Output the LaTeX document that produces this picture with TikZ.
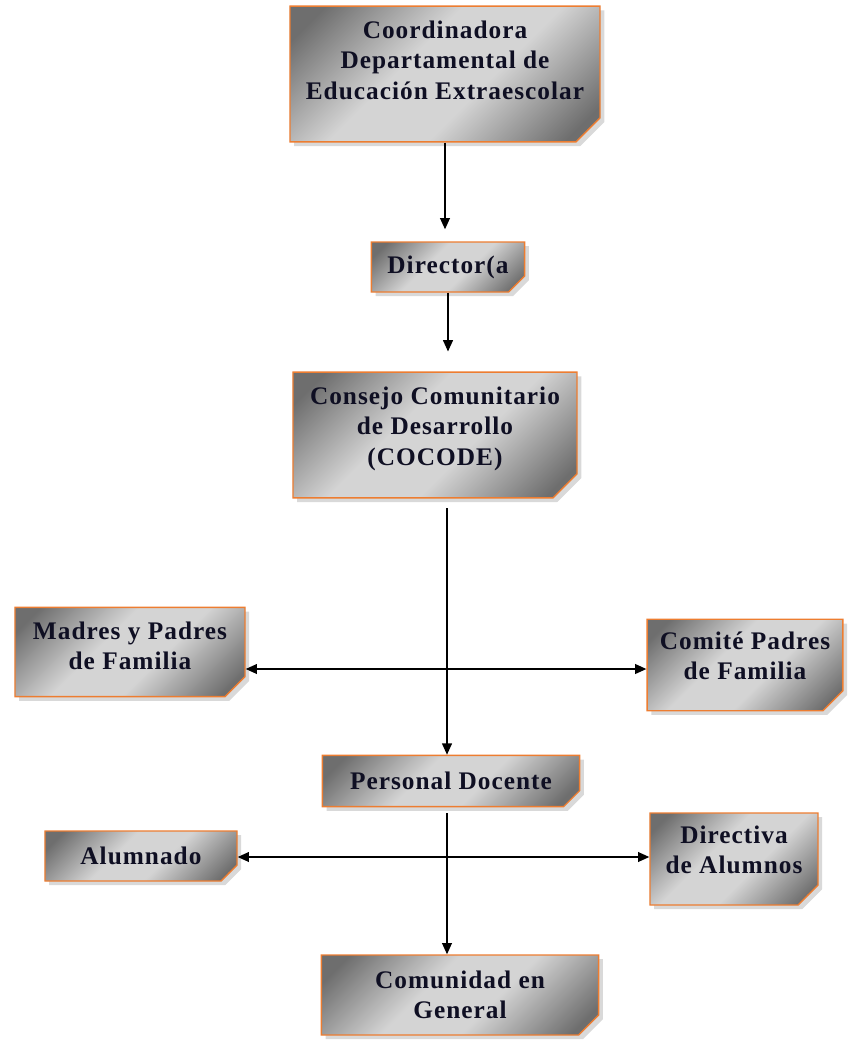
\documentclass[tikz,border=0pt]{standalone}
\usepackage{fontspec}
\setmainfont{Liberation Serif}[LetterSpace=4]
\usetikzlibrary{shapes.misc,shadows,arrows.meta}
\definecolor{boxorange}{RGB}{237,125,49}
\definecolor{boxtext}{RGB}{15,15,35}
\pgfdeclareverticalshading{boxshade}{100bp}{color(0bp)=(black!57); color(20bp)=(black!57);
  color(42bp)=(black!17); color(58bp)=(black!17); color(80bp)=(black!57); color(100bp)=(black!57)}
\tikzset{
  orgbox/.style = {chamfered rectangle, chamfered rectangle corners = south east,
    chamfered rectangle xsep = #1, chamfered rectangle ysep = #1,
    draw = boxorange, line width = 1pt, shading = boxshade, shading angle = 45,
    drop shadow = {opacity = 0.3, shadow xshift = 3pt, shadow yshift = -3pt},
    text = boxtext, font = \bfseries\fontsize{18}{21.5}\selectfont, align = center, inner sep = 2pt,
    path picture = {\draw [boxorange, line width = 0.8pt, fill = black!15]
      ([xshift = -#1]path picture bounding box.south east)
      -- ([yshift = #1]path picture bounding box.south east)
      -- ([xshift = -#1, yshift = #1]path picture bounding box.south east) -- cycle;}},
  orgbox/.default = 0.3cm,
  link/.style = {draw, line width = 1pt, -{Triangle[length = 8pt, width = 7pt]}}
}
\begin{document}
\begin{tikzpicture}[x = 0.025cm, y = -0.025cm]
        \useasboundingbox (0,0) rectangle (855,1042);
        
        \node [orgbox, minimum width = 7.75cm, minimum height = 3.2cm, text depth = 0.7cm] (coord) at (445,74)
            {Coordinadora\\Departamental de\\Educación Extraescolar};
        \node [orgbox = 0.2cm, minimum width = 3.83cm, minimum height = 1.25cm] (dir) at (448,267) {Director(a};
        \node [orgbox, minimum width = 7.1cm, minimum height = 3cm, text depth = 0.45cm] (cocode) at (435,435)
            {Consejo Comunitario\\de Desarrollo\\(COCODE)};
        
        \node [orgbox = 0.25cm, minimum width = 5.75cm, minimum height = 2.23cm, text depth = 0.3cm] (madres) at (130,652)
            {Madres y Padres\\de Familia};
        \node [orgbox = 0.25cm, minimum width = 4.65cm, minimum height = 2.25cm, text depth = 0.45cm] (comite) at (745,665)
            {Comité Padres\\de Familia};
        
        \node [orgbox = 0.2cm, minimum width = 6.43cm, minimum height = 1.28cm] (docente) at (451,781) {Personal Docente};
        \node [orgbox = 0.2cm, minimum width = 4.8cm, minimum height = 1.25cm] (alumnado) at (141,856) {Alumnado};
        \node [orgbox = 0.25cm, minimum width = 4.2cm, minimum height = 2.3cm, text depth = 0.45cm] (directiva) at (734,859)
            {Directiva\\de Alumnos};
        \node [orgbox = 0.25cm, minimum width = 6.93cm, minimum height = 2cm] (comunidad) at (460,995)
            {Comunidad en\\General};
        
        \coordinate (top1) at (447,508);
        \coordinate (mid1) at (447,669);
        \coordinate (top2) at (447,813);
        \coordinate (mid2) at (447,857);
        
        \draw [link] (coord.south) -- ([yshift = 0.3cm]coord.south |- dir.north);
        \draw [link] (dir.south) -- ([yshift = 0.5cm]dir.south |- cocode.north);
        \draw [link] (top1) -- (top1 |- docente.north);
        \draw [link] (mid1) -- (mid1 -| madres.east);
        \draw [link] (mid1) -- (mid1 -| comite.west);
        \draw [link] (top2) -- (top2 |- comunidad.north);
        \draw [link] (mid2) -- (mid2 -| alumnado.east);
        \draw [link] (mid2) -- (mid2 -| directiva.west);
\end{tikzpicture}
\end{document}
